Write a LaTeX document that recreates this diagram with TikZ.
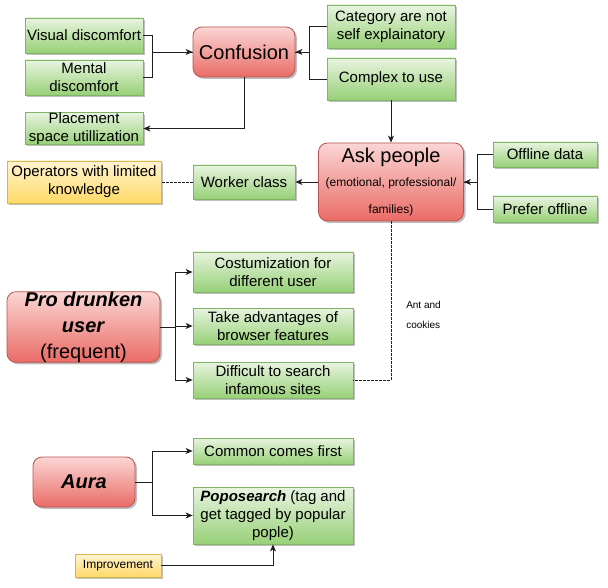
\documentclass[tikz,border=0pt]{standalone}
\usepackage{fontspec}
\setmainfont{Liberation Sans}
\usetikzlibrary{shadows,arrows.meta}
\definecolor{gstroke}{RGB}{130,179,102}
\definecolor{gtop}{RGB}{232,244,224}
\definecolor{gbot}{RGB}{151,208,119}
\definecolor{rstroke}{RGB}{184,84,80}
\definecolor{rtop}{RGB}{250,214,212}
\definecolor{rbot}{RGB}{234,107,102}
\definecolor{ystroke}{RGB}{214,182,86}
\definecolor{ytop}{RGB}{255,244,210}
\definecolor{ybot}{RGB}{255,217,102}
\definecolor{lncol}{RGB}{30,30,30}
\tikzset{
  sz/.style 2 args={minimum width=#1pt, minimum height=#2pt},
  shad/.style={drop shadow={shadow xshift=2pt, shadow yshift=-2pt, opacity=0.25, fill=black}},
  gbox/.style={draw=gstroke, top color=gtop, bottom color=gbot, shad, inner sep=0pt, align=center, font=\fontsize{15}{18}\selectfont, line width=0.8pt},
  rbox/.style={draw=rstroke, top color=rtop, bottom color=rbot, shad, rounded corners=9pt, inner sep=0pt, align=center, line width=0.8pt},
  ybox/.style={draw=ystroke, top color=ytop, bottom color=ybot, shad, inner sep=0pt, align=center, font=\fontsize{15}{18}\selectfont, line width=0.8pt},
  conn/.style={draw=lncol, line width=0.9pt},
  arr/.style={conn, -{Stealth[length=7pt,width=6pt,inset=2pt]}},
  dashline/.style={conn, dashed, dash pattern=on 2.5pt off 1.5pt}
}
\begin{document}
\begin{tikzpicture}[x=1pt,y=-1pt]
\useasboundingbox (0,0) rectangle (608,588);
% top cluster
\node[gbox, sz={118}{35}] (vis) at (84,35.5) {Visual discomfort};
\node[gbox, sz={118}{35}] (ment) at (84,77.5) {Mental\\discomfort};
\node[gbox, sz={118}{31}] (place) at (84,128.5) {Placement\\space utillization};
\node[rbox, sz={102}{50}, font=\fontsize{20}{24}\selectfont] (conf) at (244,52) {Confusion};
\node[gbox, sz={128}{43}] (cat) at (391,26.5) {Category are not\\self explainatory};
\node[gbox, sz={128}{42}] (cplx) at (391,79) {Complex to use};
% ask people cluster
\node[rbox, sz={145}{78}, font=\fontsize{12}{14}\selectfont] (ask) at (391,182) {{\fontsize{20}{24}\selectfont Ask people}\\[10pt](emotional, professional/\\[13pt]families)};
\node[gbox, sz={104}{25}] (offd) at (545,154.5) {Offline data};
\node[gbox, sz={104}{26}] (pref) at (545,209) {Prefer offline};
\node[gbox, sz={102}{34}] (work) at (244,182) {Worker class};
\node[ybox, sz={154}{42}] (oper) at (84,182) {Operators with limited\\knowledge};
% pro drunken cluster
\node[rbox, sz={153}{69}, font=\fontsize{20}{26}\selectfont] (pro) at (83.5,327) {\textbf{\textit{Pro drunken}}\\\textbf{\textit{user}}\\(frequent)};
\node[gbox, sz={160}{40}] (cost) at (273,272) {Costumization for\\different user};
\node[gbox, sz={160}{36}] (take) at (273,326) {Take advantages of\\browser features};
\node[gbox, sz={160}{36}] (diff) at (273,380) {Difficult to search\\infamous sites};
\node[font=\fontsize{10}{20}\selectfont, align=left, inner sep=0pt] (ant) at (423.5,315) {Ant and\\cookies};
% aura cluster
\node[rbox, sz={102}{50}, font=\fontsize{20}{24}\selectfont] (aura) at (84,482) {\textbf{\textit{Aura}}};
\node[gbox, sz={160}{26}] (comm) at (273,451) {Common comes first};
\node[gbox, sz={160}{57}] (popo) at (273,515.5) {\textbf{\textit{Poposearch}} (tag and\\get tagged by popular\\pople)};
\node[ybox, sz={86}{23}, font=\fontsize{12}{14}\selectfont] (impr) at (118,565.5) {Improvement};
% connectors
\draw[arr] (vis.east) -- ++(9,0) |- (conf.west);
\draw[conn] (ment.east) -- ++(9,0) |- (conf.west);
\draw[arr] (conf.south) |- (place.east);
\draw[arr] (cat.west) -- ++(-17,0) |- (conf.east);
\draw[conn] (cplx.west) -- ++(-17,0) |- (conf.east);
\draw[arr] (cplx.south) -- (ask.north);
\draw[arr] (offd.west) -- ++(-15,0) |- (ask.east);
\draw[conn] (pref.west) -- ++(-15,0) |- (ask.east);
\draw[arr] (ask.west) -- (work.east);
\draw[dashline] (work.west) -- (oper.east);
\draw[dashline] (ask.south) |- (diff.east);
\draw[arr] (pro.east) -- ++(15,0) |- (cost.west);
\draw[arr] (pro.east) -- ++(15,0) |- (take.west);
\draw[arr] (pro.east) -- ++(15,0) |- (diff.west);
\draw[arr] (aura.east) -- ++(17,0) |- (comm.west);
\draw[arr] (aura.east) -- ++(17,0) |- (popo.west);
\draw[arr] (impr.east) -| (popo.south);
\end{tikzpicture}
\end{document}
